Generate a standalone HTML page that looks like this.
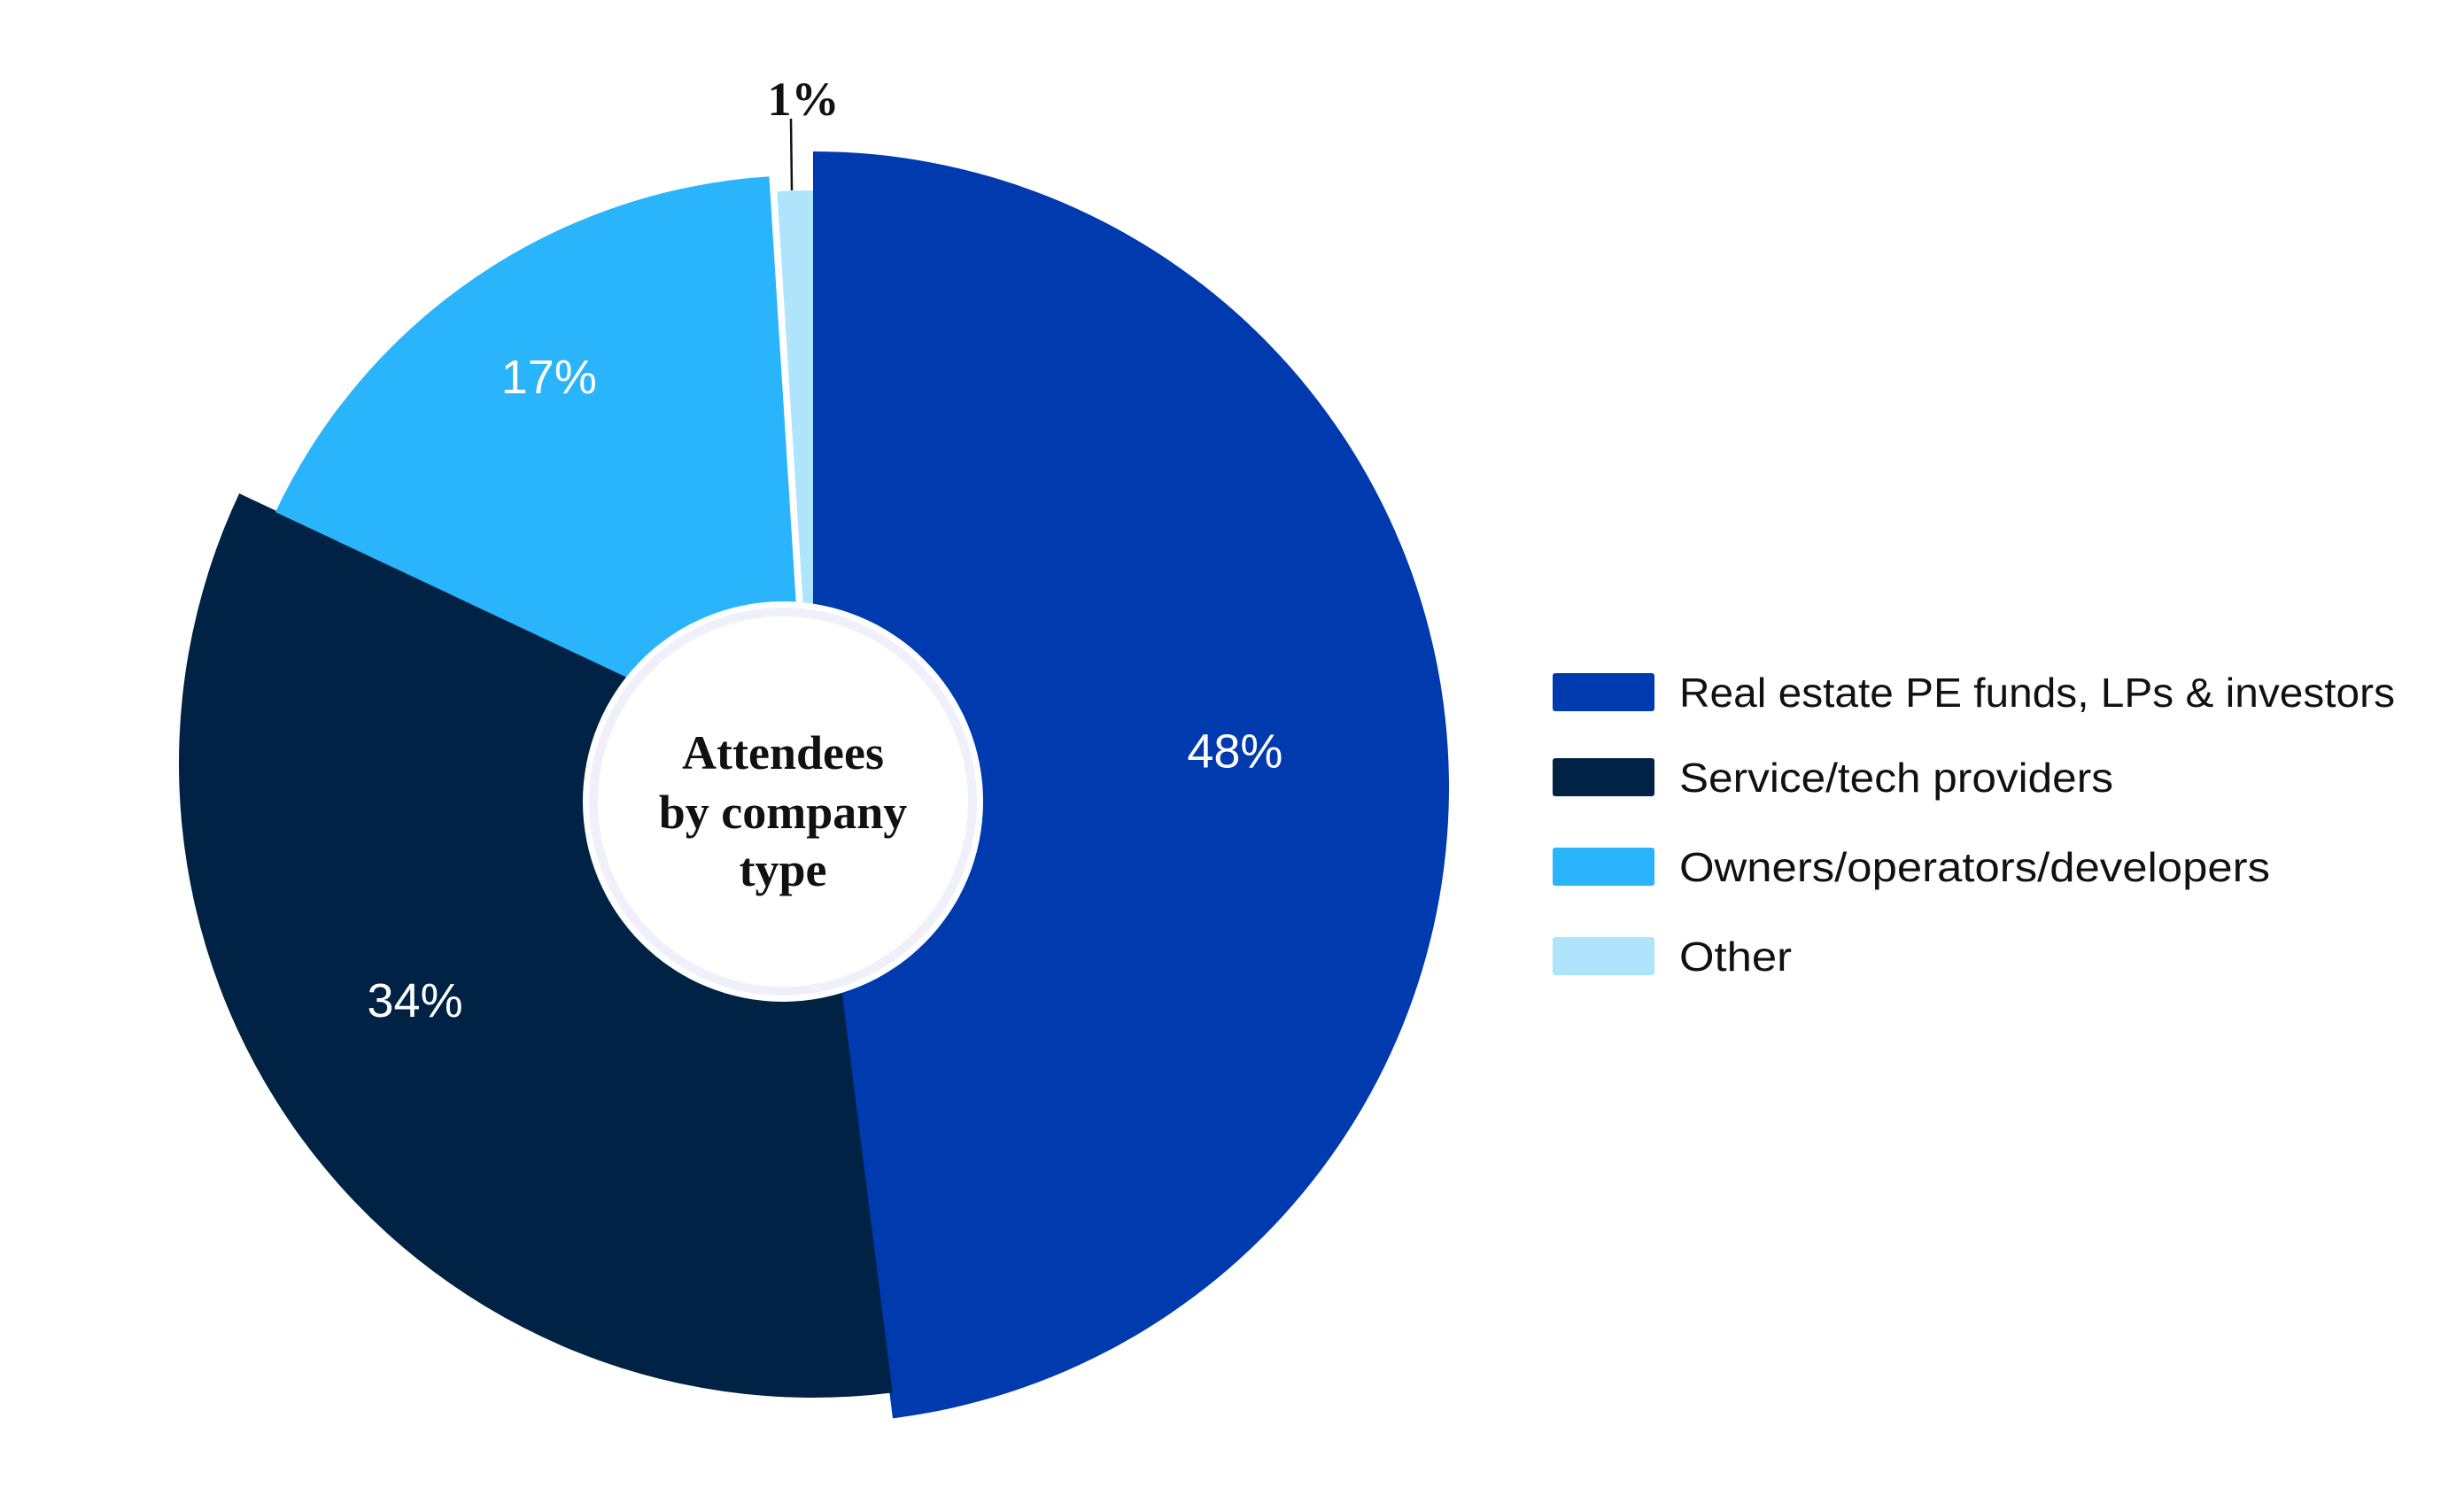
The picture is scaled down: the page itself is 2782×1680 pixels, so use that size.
<!DOCTYPE html>
<html><head><meta charset="utf-8"><style>
html,body{margin:0;padding:0;background:#fff;}
svg{display:block;}
</style></head><body>
<svg id="chart" width="2782" height="1680" viewBox="0 0 2782 1680" xmlns="http://www.w3.org/2000/svg">
<defs>
<radialGradient id="holeShadow" cx="884" cy="905" r="420" gradientUnits="userSpaceOnUse">
<stop offset="0.5" stop-color="#000" stop-opacity="0.55"/>
<stop offset="0.62" stop-color="#000" stop-opacity="0.25"/>
<stop offset="0.8" stop-color="#000" stop-opacity="0"/>
</radialGradient>
<clipPath id="pieClip"><g id="clipG"></g></clipPath>
</defs>
<g id="slices"></g>
<g id="shadowG" clip-path="url(#pieClip)"><circle cx="884" cy="905" r="420" fill="url(#holeShadow)"/></g>
<g id="labels"></g>
<line x1="893" y1="134" x2="894" y2="215" stroke="#111" stroke-width="2.5"/>
<circle cx="884" cy="905" r="226" fill="#fff"/>
<circle cx="884" cy="905" r="214" fill="none" stroke="#f0f0fb" stroke-width="10"/>
<g font-family="'Liberation Serif', serif" font-weight="bold" font-size="54" fill="#111" text-anchor="middle">
<text x="884" y="868">Attendees</text>
<text x="884" y="935">by company</text>
<text x="884" y="1000">type</text>
</g>
<g id="legend"></g>
</svg>
<script>
const categories = ["Real estate PE funds, LPs & investors","Service/tech providers","Owners/operators/developers","Other"];
const values = [48, 34, 17, 1];
const valueLabels = ["48%","34%","17%","1%"];
const colors = ["#003aaf","#002244","#29b4fb","#aee5fd"];
// geometry (styling, not data)
const apex = [[918,889],[918,862],[910,860],[918,862]];
const radii = [718,716,662,647];
const labelR = [0.666,0.73,0.79,0];
const labelDA = [-1.4,5.3,0.5,0];
const legendTextLen = [808,490,667,127];
const NS = "http://www.w3.org/2000/svg";
const slicesG = document.getElementById('slices');
const clipG = document.getElementById('clipG');
const labelsG = document.getElementById('labels');
const legendG = document.getElementById('legend');
const total = values.reduce((a,b)=>a+b,0);
function pt(c, r, a){ return [c[0]+r*Math.sin(a), c[1]-r*Math.cos(a)]; }
let cum = 0;
values.forEach((v,i)=>{
  const a0 = cum/total*2*Math.PI; cum += v;
  const a1 = cum/total*2*Math.PI;
  const p0 = pt(apex[i], radii[i], a0), p1 = pt(apex[i], radii[i], a1);
  const large = (a1-a0) > Math.PI ? 1 : 0;
  const d = `M${apex[i][0]},${apex[i][1]} L${p0[0]},${p0[1]} A${radii[i]},${radii[i]} 0 ${large} 1 ${p1[0]},${p1[1]} Z`;
  const path = document.createElementNS(NS,'path');
  path.setAttribute('d', d); path.setAttribute('fill', colors[i]);
  
  
  slicesG.appendChild(path);
  const cp = document.createElementNS(NS,'path'); cp.setAttribute('d', d); clipG.appendChild(cp);
  const t = document.createElementNS(NS,'text');
  if (labelR[i] > 0) {
    const m = (a0+a1)/2 + labelDA[i]*Math.PI/180;
    const lp = pt(apex[i], radii[i]*labelR[i], m);
    t.setAttribute('x', lp[0]); t.setAttribute('y', lp[1]+19);
    t.setAttribute('fill', '#fff');
    t.setAttribute('font-family', "'Liberation Sans', sans-serif");
  } else {
    t.setAttribute('x', 907); t.setAttribute('y', 130);
    t.setAttribute('fill', '#111');
    t.setAttribute('font-family', "'Liberation Serif', serif");
    t.setAttribute('font-weight', 'bold');
  }
  t.setAttribute('font-size', '54');
  t.setAttribute('text-anchor', 'middle');
  t.textContent = valueLabels[i];
  
  
  labelsG.appendChild(t);
});
const rowY = [782, 878, 979, 1080];
categories.forEach((c,i)=>{
  const g = document.createElementNS(NS,'g');
  
  
  const r = document.createElementNS(NS,'rect');
  r.setAttribute('x', 1753); r.setAttribute('y', rowY[i]-22);
  r.setAttribute('width', 115); r.setAttribute('height', 43); r.setAttribute('rx', 3);
  r.setAttribute('fill', colors[i]);
  
  
  const t = document.createElementNS(NS,'text');
  t.setAttribute('x', 1896); t.setAttribute('y', rowY[i]+16);
  t.setAttribute('font-family', "'Liberation Sans', sans-serif");
  t.setAttribute('font-size', '46'); t.setAttribute('fill', '#111');
  t.setAttribute('textLength', legendTextLen[i]);
  t.setAttribute('lengthAdjust', 'spacingAndGlyphs');
  t.textContent = c;
  
  
  g.appendChild(r); g.appendChild(t); legendG.appendChild(g);
});
</script>
</body></html>
